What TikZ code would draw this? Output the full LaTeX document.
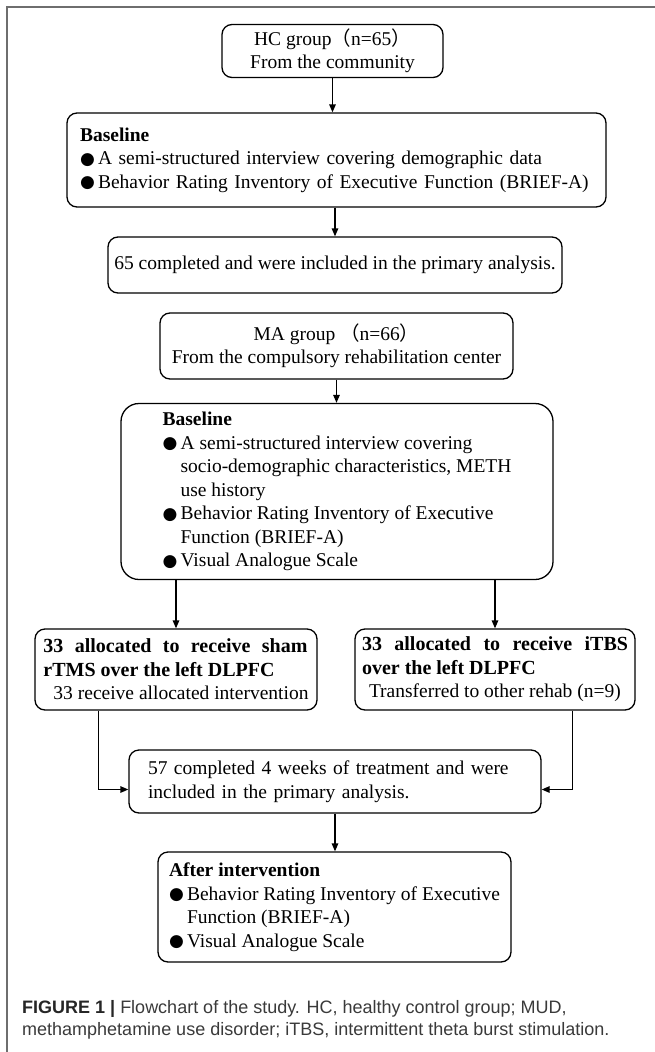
\documentclass[tikz,border=0pt]{standalone}
\usepackage{fontspec}
\setmainfont{Liberation Serif}
\setsansfont{Liberation Sans}
\newfontfamily\cjkfont{Noto Sans CJK SC}
\newfontfamily\symfont{DejaVu Sans}
\usetikzlibrary{arrows.meta,calc}
\definecolor{framegray}{HTML}{6E6E6E}
\definecolor{captext}{HTML}{3A3A3A}
\newcommand\bul{\makebox[18pt][l]{\raisebox{0.5pt}{\symfont\fontsize{17}{17}\selectfont ●}}}
\newcommand\ind{\hspace*{18pt}}
\newcommand\fp[1]{{\cjkfont #1}}
\begin{document}
\begin{tikzpicture}[x=1pt,y=-1pt]
\tikzset{
  box/.style={draw, line width=1.3pt, rounded corners=10pt, inner sep=0pt,
    font=\fontsize{19.5}{23.5}\selectfont},
  arr/.style={line width=1.3pt, -{Triangle[length=8pt,width=6.5pt]}},
  captionline/.style={anchor=base west, inner sep=0pt, text=captext,
    font=\sffamily\fontsize{18}{24}\selectfont},
}
\useasboundingbox (0,0) rectangle (655,1052);
\fill[white] (0,0) rectangle (655,1052);
\draw[framegray, line width=2pt] (655,7) -- (7,7) -- (7,1052);

\node[box, minimum width=221pt, minimum height=53pt, align=center] (hc) at (332.5,51)
  {HC group\fp{（}n=65\fp{）}\\From the community};
\node[box, minimum width=539pt, minimum height=94pt, text width=513pt, align=left] (b1) at (336.5,160)
  {\textbf{Baseline}\\
   \bul A semi-structured interview covering demographic data\\
   \bul Behavior Rating Inventory of Executive Function (BRIEF-A)};
\node[box, minimum width=454pt, minimum height=56pt] (c65) at (335,265)
  {65 completed and were included in the primary analysis.};
\node[box, minimum width=353pt, minimum height=66pt, align=center] (ma) at (336.5,346)
  {MA group\ \fp{（}n=66\fp{）}\\From the compulsory rehabilitation center};
\node[box, rounded corners=18pt, minimum width=432pt, minimum height=176pt, align=left] (b2) at (337,491.5)
  {\textbf{Baseline}\\
   \bul A semi-structured interview covering\\
   \ind socio-demographic characteristics, METH\\
   \ind use history\\
   \bul Behavior Rating Inventory of Executive\\
   \ind Function (BRIEF-A)\\
   \bul Visual Analogue Scale};
\node[box, minimum width=282pt, minimum height=81pt, align=left] (sham) at (176,669.5)
  {\makebox[264pt][s]{\textbf{\fontsize{20}{24}\selectfont 33 allocated to receive sham}}\\
   \textbf{\fontsize{20}{24}\selectfont rTMS over the left DLPFC}\\
   \hspace*{10pt}33 receive allocated intervention};
\node[box, minimum width=280pt, minimum height=81pt, align=left] (itbs) at (495,669.5)
  {\makebox[266pt][s]{\textbf{\fontsize{20}{24}\selectfont 33 allocated to receive iTBS}}\\
   \textbf{\fontsize{20}{24}\selectfont over the left DLPFC}\\
   \hspace*{7pt}Transferred to other rehab (n=9)};
\node[box, minimum width=412pt, minimum height=63pt, text width=374pt, align=left] (c57) at (335,781.5)
  {57 completed 4 weeks of treatment and were\\
   included in the primary analysis.};
\node[box, minimum width=353pt, minimum height=110pt, align=left] (after) at (334.5,907)
  {\textbf{After intervention}\\
   \bul Behavior Rating Inventory of Executive\\
   \ind Function (BRIEF-A)\\
   \bul Visual Analogue Scale};

\draw[arr] (hc.south) -- (hc.south |- b1.north);
\draw[arr] (c65.north |- b1.south) -- (c65.north);
\draw[arr] (ma.south) -- (ma.south |- b2.north);
\draw[arr] (sham.north |- b2.south) -- (sham.north);
\draw[arr] (itbs.north |- b2.south) -- (itbs.north);
\draw[arr] ([xshift=64pt]sham.south west) |- ([yshift=-8pt]c57.west);
\draw[arr] ([xshift=-63pt]itbs.south east) |- ([yshift=-8pt]c57.east);
\draw[arr] (c57.south) -- (c57.south |- after.north);

\node[captionline] (cap1) at (22,1013)
  {\textbf{\color{black!85}FIGURE 1 |} Flowchart of the study. HC, healthy control group; MUD,};
\node[captionline] (cap2) at (22,1035)
  {methamphetamine use disorder; iTBS, intermittent theta burst stimulation.};
\end{tikzpicture}
\end{document}
